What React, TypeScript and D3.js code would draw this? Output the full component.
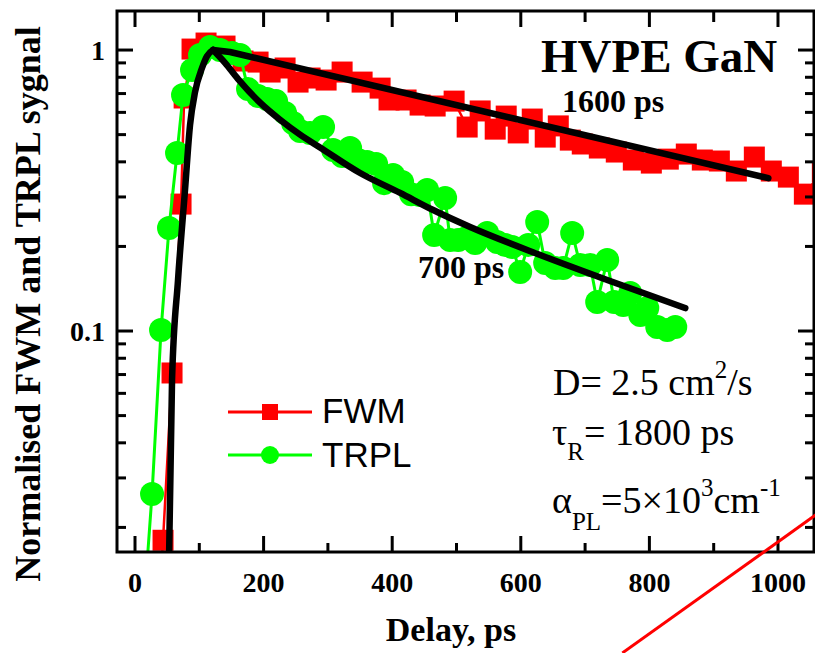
import React from "react";
import * as d3 from "d3";

// FWM signal (delay in ps, normalised amplitude)
const fwmDelay = [35, 43.6, 57.6, 71.6, 76.4, 88.7, 110.5, 140.0, 168.0, 191.4, 210.1, 233.4, 253.6, 272.3, 297.2, 322.1, 353.2, 381.2, 395.1, 421.6, 443.4, 466.8, 496.3, 516.6, 536.8, 560.2, 577.3, 596.0, 617.8, 638.0, 658.3, 677.0, 695.6, 722.1, 748.5, 775.0, 803.0, 829.4, 857.4, 882.3, 908.8, 935.2, 963.2, 989.6, 1016.1, 1041.0, 1069.0];
const fwmValue = [0.009, 0.018, 0.0709, 0.283, 0.675, 1.008, 1.059, 1.033, 0.914, 0.906, 0.835, 0.863, 0.769, 0.795, 0.782, 0.835, 0.769, 0.732, 0.664, 0.664, 0.637, 0.632, 0.658, 0.532, 0.607, 0.523, 0.582, 0.507, 0.568, 0.49, 0.537, 0.478, 0.463, 0.448, 0.4335, 0.406, 0.396, 0.409, 0.4264, 0.406, 0.4027, 0.371, 0.416, 0.371, 0.353, 0.307, 0.368];

// TRPL signal
const trplDelay = [9.3, 26.5, 40.5, 52.9, 65.4, 74.7, 88.7, 101.1, 116.7, 132.3, 150.9, 163.4, 175.8, 191.4, 205.4, 219.4, 233.4, 245.8, 256.7, 272.3, 292.5, 308.1, 322.1, 334.5, 347.0, 361.0, 375.0, 387.4, 401.4, 415.4, 429.4, 443.4, 454.3, 465.2, 482.3, 490.1, 502.6, 515.0, 529.0, 547.7, 563.2, 575.7, 586.6, 599.0, 611.5, 625.5, 637.9, 653.5, 665.9, 679.9, 692.4, 707.9, 718.8, 734.4, 745.3, 759.3, 770.2, 785.8, 796.7, 812.2, 827.8, 840.2];
const trplValue = [0.00745, 0.0263, 0.1008, 0.2326, 0.43, 0.692, 0.849, 0.96, 1.025, 1.0, 0.976, 0.96, 0.726, 0.686, 0.669, 0.658, 0.597, 0.55, 0.515, 0.507, 0.532, 0.441, 0.42, 0.448, 0.406, 0.3995, 0.393, 0.336, 0.359, 0.339, 0.307, 0.305, 0.3176, 0.2196, 0.2973, 0.2108, 0.2108, 0.2143, 0.2056, 0.2233, 0.2074, 0.2023, 0.199, 0.1622, 0.2023, 0.2443, 0.1746, 0.1676, 0.1676, 0.2233, 0.1717, 0.1717, 0.1268, 0.1789, 0.1268, 0.1238, 0.1365, 0.114, 0.1207, 0.1033, 0.1008, 0.1033];

// Model curves: common rise, then the two decays
const riseDelay = [52.9, 57.6, 66.9, 77.8, 85.6, 93.4, 104.2, 112.0, 121.4];
const riseValue = [0.0153, 0.067, 0.152, 0.318, 0.541, 0.709, 0.863, 0.952, 1.0];
const fwmFitDelay = [121.4, 147.8, 985];
const fwmFitValue = [1.0, 0.984, 0.35];
const trplFitDelay = [121.4, 140.0, 160.0, 194.5, 225.6, 256.7, 287.8, 350.1, 412.3, 463.7, 521.2, 630.2, 734.4, 855.8];
const trplFitValue = [1.0, 0.9, 0.79, 0.65, 0.565, 0.5, 0.45, 0.365, 0.31, 0.2695, 0.2345, 0.1864, 0.1519, 0.1207];

// Stray red segment in the lower right corner
const strayDelay = [758, 1080];
const strayValue = [0.00715, 0.024];

const xMajor = [0, 200, 400, 600, 800, 1000];
const xMinor = [100, 300, 500, 700, 900];
const yMajor = [1, 0.1];
const yMajorLabels = ["1", "0.1"];
const yMinor = [0.02, 0.03, 0.04, 0.05, 0.06, 0.07, 0.08, 0.09, 0.2, 0.3, 0.4, 0.5, 0.6, 0.7, 0.8, 0.9];

const W = 815;
const H = 653;
const left = 117;
const right = 814;
const top = 11;
const bottom = 552;

const serif = "'Liberation Serif', 'Times New Roman', serif";
const sans = "'Liberation Sans', Arial, sans-serif";

export default function App() {
  const x = d3.scaleLinear().domain([-28, 1056]).range([left, right]);
  const y = d3.scaleLog().domain([0.01635, 1.377]).range([bottom, top]);

  const line = d3
    .line<[number, number]>()
    .x((d) => x(d[0]))
    .y((d) => y(d[1]));
  const smooth = d3
    .line<[number, number]>()
    .x((d) => x(d[0]))
    .y((d) => y(d[1]))
    .curve(d3.curveMonotoneX);

  const zip = (a: number[], b: number[]) => a.map((v, i) => [v, b[i]] as [number, number]);
  const fwm = zip(fwmDelay, fwmValue);
  const trpl = zip(trplDelay, trplValue);
  const rise = zip(riseDelay, riseValue);
  const fwmFit = zip(fwmFitDelay, fwmFitValue);
  const trplFit = zip(trplFitDelay, trplFitValue);
  const stray = zip(strayDelay, strayValue);

  const sq = 21;
  const fitStyle = {
    fill: "none",
    stroke: "#000",
    strokeWidth: 6.5,
    strokeLinejoin: "round" as const,
    strokeLinecap: "round" as const,
  };

  return (
    <div style={{ position: "absolute", left: 0, top: 0 }}>
      <svg width={W} height={H} style={{ display: "block", background: "#fff" }}>
        <defs>
          <clipPath id="plotClip">
            <rect x={left} y={top} width={W + 40 - left} height={bottom - top} />
          </clipPath>
        </defs>

        {/* data */}
        <g clipPath="url(#plotClip)">
          <path d={line(fwm) || ""} fill="none" stroke="#ff0000" strokeWidth={2.5} />
          {fwm.map((d, i) => (
            <rect key={"f" + i} x={x(d[0]) - sq / 2} y={y(d[1]) - sq / 2} width={sq} height={sq} fill="#ff0000" />
          ))}
          <path d={line(trpl) || ""} fill="none" stroke="#00ff00" strokeWidth={3} />
          {trpl.map((d, i) => (
            <circle key={"t" + i} cx={x(d[0])} cy={y(d[1])} r={12} fill="#00ff00" />
          ))}
          <path d={smooth(rise) || ""} {...fitStyle} />
          <path d={line(fwmFit) || ""} {...fitStyle} />
          <path d={smooth(trplFit) || ""} {...fitStyle} />
        </g>

        {/* frame */}
        <rect x={left} y={top} width={right - left} height={bottom - top} fill="none" stroke="#000" strokeWidth={3} />

        {/* x ticks, bottom and top */}
        {xMajor.map((v) => (
          <g key={"xm" + v}>
            <line x1={x(v)} x2={x(v)} y1={bottom} y2={bottom - 16} stroke="#000" strokeWidth={3} />
            <line x1={x(v)} x2={x(v)} y1={top} y2={top + 16} stroke="#000" strokeWidth={3} />
            <text x={x(v)} y={592} textAnchor="middle" fontFamily={serif} fontWeight="bold" fontSize={28}>
              {v}
            </text>
          </g>
        ))}
        {xMinor.map((v) => (
          <g key={"xn" + v}>
            <line x1={x(v)} x2={x(v)} y1={bottom} y2={bottom - 9} stroke="#000" strokeWidth={3} />
            <line x1={x(v)} x2={x(v)} y1={top} y2={top + 11} stroke="#000" strokeWidth={3} />
          </g>
        ))}

        {/* y ticks, left and right */}
        {yMajor.map((v, i) => (
          <g key={"ym" + v}>
            <line x1={left} x2={left + 16} y1={y(v)} y2={y(v)} stroke="#000" strokeWidth={3} />
            <line x1={right} x2={right - 16} y1={y(v)} y2={y(v)} stroke="#000" strokeWidth={3} />
            <text x={105} y={y(v) + 10} textAnchor="end" fontFamily={serif} fontWeight="bold" fontSize={28}>
              {yMajorLabels[i]}
            </text>
          </g>
        ))}
        {yMinor.map((v) => (
          <g key={"yn" + v}>
            <line x1={left} x2={left + 9} y1={y(v)} y2={y(v)} stroke="#000" strokeWidth={3} />
            <line x1={right} x2={right - 9} y1={y(v)} y2={y(v)} stroke="#000" strokeWidth={3} />
          </g>
        ))}

        {/* axis titles */}
        <text x={451} y={641} textAnchor="middle" fontFamily={serif} fontWeight="bold" fontSize={34}>
          Delay, ps
        </text>
        <text
          transform="translate(40,304) rotate(-90)"
          textAnchor="middle"
          fontFamily={serif}
          fontWeight="bold"
          fontSize={36}
        >
          Normalised FWM and TRPL sygnal
        </text>

        {/* labels */}
        <text x={541} y={72} fontFamily={serif} fontWeight="bold" fontSize={47}>
          HVPE GaN
        </text>
        <text x={562} y={112} fontFamily={serif} fontWeight="bold" fontSize={32}>
          1600 ps
        </text>
        <text x={418} y={278} fontFamily={serif} fontWeight="bold" fontSize={32}>
          700 ps
        </text>

        <text x={553} y={395} fontFamily={serif} fontSize={38}>
          D= 2.5 cm
          <tspan fontSize={25} dy={-17}>2</tspan>
          <tspan dy={17}>/s</tspan>
        </text>
        <text x={552} y={445} fontFamily={serif} fontSize={38}>
          τ
          <tspan fontSize={25} dy={15}>R</tspan>
          <tspan dy={-15}>= 1800 ps</tspan>
        </text>
        <text x={552} y={513} fontFamily={serif} fontSize={38}>
          α
          <tspan fontSize={25} dy={17}>PL</tspan>
          <tspan dy={-17}>=5×10</tspan>
          <tspan fontSize={25} dy={-17}>3</tspan>
          <tspan dy={17}>cm</tspan>
          <tspan fontSize={25} dy={-17}>-1</tspan>
        </text>

        {/* legend */}
        <line x1={228} x2={312} y1={412} y2={412} stroke="#ff0000" strokeWidth={3} />
        <rect x={262} y={404} width={16} height={16} fill="#ff0000" />
        <text x={322} y={423} fontFamily={sans} fontSize={35}>
          FWM
        </text>
        <line x1={228} x2={312} y1={455} y2={455} stroke="#00ff00" strokeWidth={3} />
        <circle cx={270} cy={455} r={9} fill="#00ff00" />
        <text x={322} y={467} fontFamily={sans} fontSize={35}>
          TRPL
        </text>

        {/* stray segment */}
        <path d={line(stray) || ""} fill="none" stroke="#ff0000" strokeWidth={3} />
      </svg>
    </div>
  );
}
